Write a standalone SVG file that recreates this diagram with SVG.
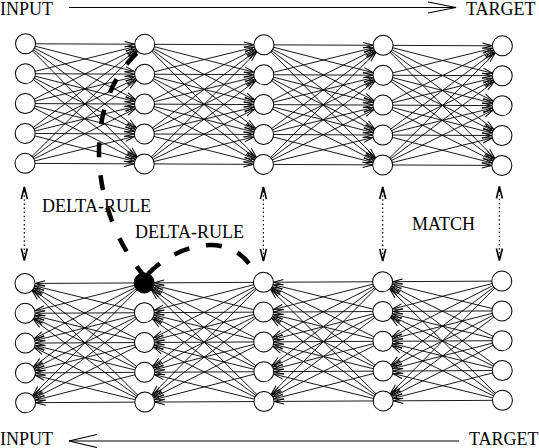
<svg xmlns="http://www.w3.org/2000/svg" xmlns:xlink="http://www.w3.org/1999/xlink" width="539" height="448" viewBox="0 0 539 448">
<style>
.e{stroke:#000;stroke-width:0.9;fill:none;marker-end:url(#ah)}
.n{fill:#fff;stroke:#000;stroke-width:1}
.f{fill:#000;stroke:#000;stroke-width:1}
.dot{stroke:#000;stroke-width:1.2;fill:none;stroke-dasharray:1.5 2.6;marker-start:url(#dh);marker-end:url(#dh)}
.dash{stroke:#000;stroke-width:4.5;fill:none}
.ttl{stroke:#000;stroke-width:1.2;fill:none}
.t{font-family:"Liberation Serif","Times New Roman",serif;font-size:18px;fill:#000}
</style>
<defs>
<marker id="ah" markerUnits="userSpaceOnUse" markerWidth="22" markerHeight="8" refX="20.5" refY="4" orient="auto" overflow="visible">
<path d="M0.5,1.3 L10.5,4 L0.5,6.7" fill="none" stroke="#000" stroke-width="1"/>
</marker>
<marker id="dh" markerUnits="userSpaceOnUse" markerWidth="14" markerHeight="8" refX="12" refY="4" orient="auto-start-reverse" overflow="visible">
<path d="M0,1 L12,4 L0,7" fill="none" stroke="#000" stroke-width="1.6"/>
</marker>
<g id="gt">
<line class="e" x1="0" y1="44.8" x2="119.2" y2="44.8"/><line class="e" x1="0" y1="44.8" x2="119.2" y2="74.7"/><line class="e" x1="0" y1="44.8" x2="119.2" y2="104.6"/><line class="e" x1="0" y1="44.8" x2="119.2" y2="134.5"/><line class="e" x1="0" y1="44.8" x2="119.2" y2="164.4"/>
<line class="e" x1="0" y1="74.7" x2="119.2" y2="44.8"/><line class="e" x1="0" y1="74.7" x2="119.2" y2="74.7"/><line class="e" x1="0" y1="74.7" x2="119.2" y2="104.6"/><line class="e" x1="0" y1="74.7" x2="119.2" y2="134.5"/><line class="e" x1="0" y1="74.7" x2="119.2" y2="164.4"/>
<line class="e" x1="0" y1="104.6" x2="119.2" y2="44.8"/><line class="e" x1="0" y1="104.6" x2="119.2" y2="74.7"/><line class="e" x1="0" y1="104.6" x2="119.2" y2="104.6"/><line class="e" x1="0" y1="104.6" x2="119.2" y2="134.5"/><line class="e" x1="0" y1="104.6" x2="119.2" y2="164.4"/>
<line class="e" x1="0" y1="134.5" x2="119.2" y2="44.8"/><line class="e" x1="0" y1="134.5" x2="119.2" y2="74.7"/><line class="e" x1="0" y1="134.5" x2="119.2" y2="104.6"/><line class="e" x1="0" y1="134.5" x2="119.2" y2="134.5"/><line class="e" x1="0" y1="134.5" x2="119.2" y2="164.4"/>
<line class="e" x1="0" y1="164.4" x2="119.2" y2="44.8"/><line class="e" x1="0" y1="164.4" x2="119.2" y2="74.7"/><line class="e" x1="0" y1="164.4" x2="119.2" y2="104.6"/><line class="e" x1="0" y1="164.4" x2="119.2" y2="134.5"/><line class="e" x1="0" y1="164.4" x2="119.2" y2="164.4"/>
</g>
<g id="gb">
<line class="e" x1="119.2" y1="282.3" x2="0" y2="282.3"/><line class="e" x1="119.2" y1="282.3" x2="0" y2="312.1"/><line class="e" x1="119.2" y1="282.3" x2="0" y2="341.9"/><line class="e" x1="119.2" y1="282.3" x2="0" y2="371.7"/><line class="e" x1="119.2" y1="282.3" x2="0" y2="401.5"/>
<line class="e" x1="119.2" y1="312.1" x2="0" y2="282.3"/><line class="e" x1="119.2" y1="312.1" x2="0" y2="312.1"/><line class="e" x1="119.2" y1="312.1" x2="0" y2="341.9"/><line class="e" x1="119.2" y1="312.1" x2="0" y2="371.7"/><line class="e" x1="119.2" y1="312.1" x2="0" y2="401.5"/>
<line class="e" x1="119.2" y1="341.9" x2="0" y2="282.3"/><line class="e" x1="119.2" y1="341.9" x2="0" y2="312.1"/><line class="e" x1="119.2" y1="341.9" x2="0" y2="341.9"/><line class="e" x1="119.2" y1="341.9" x2="0" y2="371.7"/><line class="e" x1="119.2" y1="341.9" x2="0" y2="401.5"/>
<line class="e" x1="119.2" y1="371.7" x2="0" y2="282.3"/><line class="e" x1="119.2" y1="371.7" x2="0" y2="312.1"/><line class="e" x1="119.2" y1="371.7" x2="0" y2="341.9"/><line class="e" x1="119.2" y1="371.7" x2="0" y2="371.7"/><line class="e" x1="119.2" y1="371.7" x2="0" y2="401.5"/>
<line class="e" x1="119.2" y1="401.5" x2="0" y2="282.3"/><line class="e" x1="119.2" y1="401.5" x2="0" y2="312.1"/><line class="e" x1="119.2" y1="401.5" x2="0" y2="341.9"/><line class="e" x1="119.2" y1="401.5" x2="0" y2="371.7"/><line class="e" x1="119.2" y1="401.5" x2="0" y2="401.5"/>
</g>
</defs>
<g id="connectors">
<g transform="rotate(0.25 263.7 104.6)">
<use xlink:href="#gt" x="25.3"/><use xlink:href="#gt" x="144.5"/><use xlink:href="#gt" x="263.7"/><use xlink:href="#gt" x="382.9"/>
</g>
<g transform="rotate(-0.29 263.7 341.9)">
<use xlink:href="#gb" x="25.3"/><use xlink:href="#gb" x="144.5"/><use xlink:href="#gb" x="263.7"/><use xlink:href="#gb" x="382.9"/>
</g>
<line class="dot" x1="24.3" y1="187" x2="24.3" y2="260.5"/>
<line class="dot" x1="263.4" y1="187" x2="263.4" y2="261"/>
<line class="dot" x1="382.7" y1="187" x2="382.7" y2="261"/>
<line class="dot" x1="499.4" y1="186.5" x2="499.4" y2="260.5"/>
<path class="dash" d="M146,278 C90,215 80,105 138,52" stroke-dasharray="15 18"/>
<path class="dash" d="M148,274 C170,250 230,222 257,276" stroke-dasharray="16 17"/>
<line class="ttl" x1="69" y1="7.5" x2="456" y2="7.5"/>
<path class="ttl" d="M428,2 L456,7.5 L428,13" stroke-width="1.8"/>
<line class="ttl" x1="69" y1="441" x2="459" y2="441"/>
<path class="ttl" d="M97,434.5 L69,441 L97,447.5" stroke-width="1.8"/>
</g>
<g transform="rotate(0.25 263.7 104.6)">
<g id="t11"><circle class="n" cx="25.3" cy="44.8" r="10"/></g><g id="t12"><circle class="n" cx="25.3" cy="74.7" r="10"/></g><g id="t13"><circle class="n" cx="25.3" cy="104.6" r="10"/></g><g id="t14"><circle class="n" cx="25.3" cy="134.5" r="10"/></g><g id="t15"><circle class="n" cx="25.3" cy="164.4" r="10"/></g>
<g id="t21"><circle class="n" cx="144.5" cy="44.8" r="10"/></g><g id="t22"><circle class="n" cx="144.5" cy="74.7" r="10"/></g><g id="t23"><circle class="n" cx="144.5" cy="104.6" r="10"/></g><g id="t24"><circle class="n" cx="144.5" cy="134.5" r="10"/></g><g id="t25"><circle class="n" cx="144.5" cy="164.4" r="10"/></g>
<g id="t31"><circle class="n" cx="263.7" cy="44.8" r="10"/></g><g id="t32"><circle class="n" cx="263.7" cy="74.7" r="10"/></g><g id="t33"><circle class="n" cx="263.7" cy="104.6" r="10"/></g><g id="t34"><circle class="n" cx="263.7" cy="134.5" r="10"/></g><g id="t35"><circle class="n" cx="263.7" cy="164.4" r="10"/></g>
<g id="t41"><circle class="n" cx="382.9" cy="44.8" r="10"/></g><g id="t42"><circle class="n" cx="382.9" cy="74.7" r="10"/></g><g id="t43"><circle class="n" cx="382.9" cy="104.6" r="10"/></g><g id="t44"><circle class="n" cx="382.9" cy="134.5" r="10"/></g><g id="t45"><circle class="n" cx="382.9" cy="164.4" r="10"/></g>
<g id="t51"><circle class="n" cx="502.1" cy="44.8" r="10"/></g><g id="t52"><circle class="n" cx="502.1" cy="74.7" r="10"/></g><g id="t53"><circle class="n" cx="502.1" cy="104.6" r="10"/></g><g id="t54"><circle class="n" cx="502.1" cy="134.5" r="10"/></g><g id="t55"><circle class="n" cx="502.1" cy="164.4" r="10"/></g>
</g>
<g transform="rotate(-0.29 263.7 341.9)">
<g id="b11"><circle class="n" cx="25.3" cy="282.3" r="10"/></g><g id="b12"><circle class="n" cx="25.3" cy="312.1" r="10"/></g><g id="b13"><circle class="n" cx="25.3" cy="341.9" r="10"/></g><g id="b14"><circle class="n" cx="25.3" cy="371.7" r="10"/></g><g id="b15"><circle class="n" cx="25.3" cy="401.5" r="10"/></g>
<g id="b21"><circle class="f" cx="144.5" cy="282.3" r="10"/></g><g id="b22"><circle class="n" cx="144.5" cy="312.1" r="10"/></g><g id="b23"><circle class="n" cx="144.5" cy="341.9" r="10"/></g><g id="b24"><circle class="n" cx="144.5" cy="371.7" r="10"/></g><g id="b25"><circle class="n" cx="144.5" cy="401.5" r="10"/></g>
<g id="b31"><circle class="n" cx="263.7" cy="282.3" r="10"/></g><g id="b32"><circle class="n" cx="263.7" cy="312.1" r="10"/></g><g id="b33"><circle class="n" cx="263.7" cy="341.9" r="10"/></g><g id="b34"><circle class="n" cx="263.7" cy="371.7" r="10"/></g><g id="b35"><circle class="n" cx="263.7" cy="401.5" r="10"/></g>
<g id="b41"><circle class="n" cx="382.9" cy="282.3" r="10"/></g><g id="b42"><circle class="n" cx="382.9" cy="312.1" r="10"/></g><g id="b43"><circle class="n" cx="382.9" cy="341.9" r="10"/></g><g id="b44"><circle class="n" cx="382.9" cy="371.7" r="10"/></g><g id="b45"><circle class="n" cx="382.9" cy="401.5" r="10"/></g>
<g id="b51"><circle class="n" cx="502.1" cy="282.3" r="10"/></g><g id="b52"><circle class="n" cx="502.1" cy="312.1" r="10"/></g><g id="b53"><circle class="n" cx="502.1" cy="341.9" r="10"/></g><g id="b54"><circle class="n" cx="502.1" cy="371.7" r="10"/></g><g id="b55"><circle class="n" cx="502.1" cy="401.5" r="10"/></g>
</g>
<g id="labels">
<text class="t" x="0" y="15">INPUT</text>
<text class="t" x="466" y="15">TARGET</text>
<text class="t" x="42" y="212">DELTA-RULE</text>
<text class="t" x="135" y="238">DELTA-RULE</text>
<text class="t" x="412" y="230">MATCH</text>
<text class="t" x="0" y="445">INPUT</text>
<text class="t" x="469" y="445">TARGET</text>
</g>
</svg>
